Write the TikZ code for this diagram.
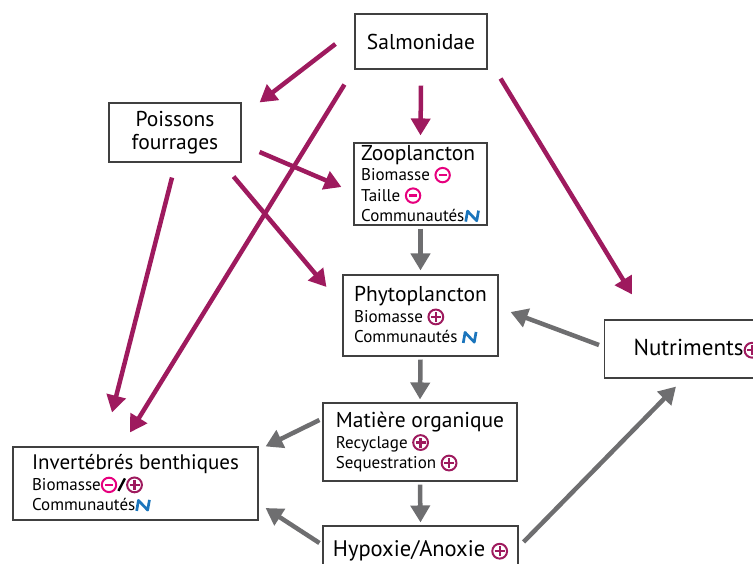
\documentclass[tikz,border=0pt]{standalone}
\usepackage{fontspec}
\setmainfont{PT Sans}
\usetikzlibrary{arrows.meta,calc,positioning}

\definecolor{salmon}{RGB}{158,26,94}
\definecolor{grisfl}{RGB}{110,110,112}
\definecolor{moinscol}{RGB}{230,0,126}
\definecolor{pluscol}{RGB}{158,26,94}
\definecolor{commcol}{RGB}{27,117,188}

\newcommand{\ttl}{\fontsize{21.5}{24}\selectfont}
\newcommand{\sub}{\fontsize{17}{20.5}\selectfont}
% small effect signs
\newcommand{\signmoins}{\tikz[baseline=-5.5pt]{\draw[line width=2pt, moinscol] (0pt,0pt) circle (7.2pt); \draw[line width=2.3pt, moinscol] (-4pt,0pt) -- (4pt,0pt);}}
\newcommand{\signplus}{\tikz[baseline=-5.5pt]{\draw[line width=2pt, pluscol] (0pt,0pt) circle (7.4pt); \draw[line width=2.3pt, pluscol] (-5pt,0pt) -- (5pt,0pt) (0pt,-5pt) -- (0pt,5pt);}}
\newcommand{\signcomm}{\tikz[baseline=0pt]{\draw[line width=2.7pt, commcol, line join=round] (0pt,0pt) -- (1.8pt,10.5pt) -- (11pt,0.8pt) -- (12.8pt,11pt);}}
\newcommand{\signslash}{\tikz[baseline=0pt]{\draw[line width=2.4pt] (0pt,-0.5pt) -- (6.5pt,12pt);}}

\tikzset{
  boite/.style={rectangle, draw=black!75, line width=1.1pt, align=left, inner sep=0pt, font=\sub},
  effet/.style={line width=4.5pt, color=salmon, -{Triangle[length=17pt,width=19pt]}},
  flux/.style={line width=4.5pt, color=grisfl, -{Triangle[length=17pt,width=19pt]}},
}

\begin{document}
\begin{tikzpicture}[x=1pt, y=-1pt]
    \useasboundingbox (0,0) rectangle (753,563);
    \clip (0,0) rectangle (753,563);

    \node (salmo) [boite, minimum width=132pt, minimum height=55pt] at (421,41.5) {\ttl Salmonidae};
    \node (poiss) [boite, minimum width=132pt, minimum height=59pt, align=center] at (175,132.5) {\ttl Poissons\\[2pt]\ttl fourrages};
    \node (zoo) [boite, minimum width=133pt, minimum height=82pt] at (420.5,184)
        {{\ttl Zooplancton}\\ Biomasse \signmoins\\ Taille \signmoins\\ Communautés\signcomm};
    \node (phyto) [boite, minimum width=155pt, minimum height=81pt] at (420.5,315.5)
        {{\ttl Phytoplancton}\\ Biomasse \signplus\\ Communautés \signcomm};
    \node (nutri) [boite, minimum height=58pt, inner xsep=29pt, anchor=west] at (604,349) {\fontsize{23}{26}\selectfont Nutriments\signplus};
    \node (matiere) [boite, minimum width=194pt, minimum height=78pt] at (420,442)
        {{\ttl Matière organique}\\ Recyclage \signplus\\ Sequestration \signplus};
    \node (hypo) [boite, minimum width=195pt, minimum height=50pt] at (420.5,551) {\fontsize{22.5}{25}\selectfont Hypoxie/Anoxie \signplus};
    \node (invert) [boite, minimum width=245pt, minimum height=73pt] at (135.5,483.5)
        {{\fontsize{21}{23}\selectfont Invertébrés benthiques}\\ Biomasse\signmoins\signslash\signplus\\ Communautés\signcomm};

    % top-down effects
    \draw[effet] ($(salmo.west)+(-19,2.5)$) -- ($(poiss.north east)+(18,0)$);
    \draw[effet] ($(salmo.south west)+(-10,15)$) -- ($(invert.north)+(-5.5,-14)$);
    \draw[effet] ($(salmo.south)+(0,16)$) -- ($(zoo.north)+(0,-7)$);
    \draw[effet] ($(salmo.south east)+(13,9)$) -- ($(nutri.north west)+(28,-25)$);
    \draw[effet] ($(poiss.east)+(18,19.5)$) -- ($(zoo.west)+(-12,3)$);
    \draw[effet] ($(poiss.south east)+(-8,14)$) -- ($(phyto.west)+(-16,-28.5)$);
    \draw[effet] ($(poiss.south)+(-3,15)$) -- ($(invert.north)+(-23.5,-34)$);

    % flows
    \draw[flux] ($(zoo.south)+(0,3)$) -- ($(phyto.north)+(0,-4)$);
    \draw[flux] ($(phyto.south)+(0,3)$) -- ($(matiere.north)+(0,-3)$);
    \draw[flux] ($(matiere.south)+(0,3)$) -- ($(hypo.north)+(0,-3)$);
    \draw[flux] ($(nutri.west)+(-5,-4)$) -- ($(phyto.east)+(12,-3.5)$);
    \draw[flux] ($(matiere.west)+(-3,-22)$) -- ($(invert.north east)+(7,0)$);
    \draw[flux] ($(hypo.west)+(-3,-8)$) -- ($(invert.east)+(7,24.5)$);
    \draw[flux] ($(hypo.east)+(5,-9)$) -- ($(nutri.south west)+(72,8)$);
\end{tikzpicture}
\end{document}
